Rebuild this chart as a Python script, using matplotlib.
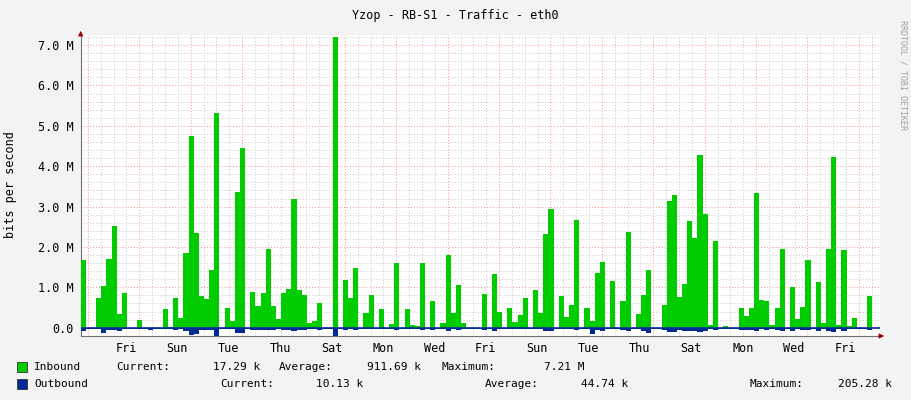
import matplotlib
matplotlib.use("Agg")
import matplotlib.pyplot as plt
import numpy as np

slot_days = 0.2  # sample period in days
inbound_M = [1.67,0,0,0.74,1.03,1.70,2.51,0.34,0.87,0,0,0.19,0,0,0,0,0.46,0.02,0.74,0.25,
             1.85,4.74,2.35,0.79,0.72,1.43,5.33,0,0.49,0.16,3.35,4.46,0,0.88,0.54,0.86,1.94,0.54,0.22,0.86,
             0.96,3.2,0.93,0.81,0.11,0.16,0.61,0,0,7.21,0,1.18,0.74,1.47,0,0.36,0.81,0,0.46,0,
             0.09,1.6,0,0.46,0.07,0.04,1.6,0,0.66,0,0.12,1.8,0.36,1.05,0.12,0,0,0,0.83,0,
             1.33,0.39,0,0.49,0.14,0.31,0.74,0,0.93,0.36,2.31,2.93,0,0.79,0.27,0.56,2.66,0,0.49,0.16,
             1.35,1.62,0,1.15,0,0.66,2.37,0,0.34,0.81,1.43,0,0,0.56,3.13,3.28,0.76,1.08,2.64,2.22,
             4.29,2.81,0.07,2.14,0,0.04,0,0,0.49,0.29,0.49,3.33,0.68,0.66,0.07,0.49,1.94,0,1.0,0.21,
             0.51,1.67,0,1.13,0.12,1.94,4.24,0.07,1.92,0.04,0.24,0,0,0.78]
outbound_k = [90,20,20,40,120,60,60,90,40,20,20,20,20,50,20,20,40,20,60,40,
              80,190,150,60,50,60,200,40,40,30,120,130,40,60,50,50,50,50,30,50,
              50,80,60,50,20,30,50,20,20,205,20,50,40,60,20,30,40,20,40,20,
              20,60,20,40,20,20,60,20,50,20,30,80,40,60,30,20,20,20,50,20,
              70,40,20,30,20,30,40,20,40,30,70,70,20,40,30,40,60,20,30,150,
              60,80,20,40,20,50,90,20,40,70,120,20,20,50,110,100,60,90,80,70,
              110,90,20,60,20,20,20,20,60,50,60,90,40,60,20,60,80,20,90,30,
              50,60,20,70,40,80,110,30,80,20,30,20,20,60]

day_labels = ["Fri","Sun","Tue","Thu","Sat","Mon","Wed","Fri","Sun","Tue","Thu","Sat","Mon","Wed","Fri"]
first_major = 0.28
first_label = 1.76
ytick_vals = [0,1,2,3,4,5,6,7]
ytick_labels = ["0.0","1.0 M","2.0 M","3.0 M","4.0 M","5.0 M","6.0 M","7.0 M"]

W, H = 911, 400
fig = plt.figure(figsize=(W/100, H/100), dpi=100, facecolor="#F3F3F3")
ax = fig.add_axes([80.7/W, 1-336/H, (880-80.7)/W, (336-35)/H])
ax.set_facecolor("white")
mono = "DejaVu Sans Mono"

n = len(inbound_M)
t = np.arange(n+1)*slot_days
vin = np.append(inbound_M, inbound_M[-1])
vout = -np.append(outbound_k, outbound_k[-1])/1000.0
ax.fill_between(t, 0, vin, step="post", color="#00CC00", lw=0, zorder=3)
ax.fill_between(t, 0, vout, step="post", color="#002A97", lw=0, zorder=3)
ax.axhline(0, color="#002A97", lw=1.2, zorder=4)

xmax = (880-80.7)/25.7
ax.set_xlim(0, xmax)
ax.set_ylim(-0.205, 7.25)

# grid
for y in np.arange(0, 7.3, 0.2):
    major = abs(y-round(y)) < 1e-6
    ax.axhline(y, color="#FF9090" if major else "#C8C8C8", lw=0.7, ls=(0,(1,2)), zorder=1)
x = first_major-2
while x < xmax:
    for k in range(4):
        xx = x + 0.5*k
        if 0 < xx < xmax:
            ax.axvline(xx, color="#FF9090" if k == 0 else "#C8C8C8", lw=0.7, ls=(0,(1,2)), zorder=1)
    x += 2

for s in ["top","right"]:
    ax.spines[s].set_visible(False)
ax.spines["left"].set_color("#707070")
ax.spines["bottom"].set_color("#707070")
ax.annotate("", xy=(887/W, 1-336/H), xytext=(878/W, 1-336/H), xycoords="figure fraction",
            arrowprops=dict(arrowstyle="-|>", color="#A00000", lw=0.8, mutation_scale=7))
ax.annotate("", xy=(80.7/W, 1-28/H), xytext=(80.7/W, 1-38/H), xycoords="figure fraction",
            arrowprops=dict(arrowstyle="-|>", color="#A00000", lw=0.8, mutation_scale=7))

ax.set_yticks(ytick_vals)
ax.set_yticklabels(ytick_labels, fontfamily=mono, fontsize=8.5)
ax.set_xticks([first_label + 2*i for i in range(len(day_labels))])
ax.set_xticklabels(day_labels, fontfamily=mono, fontsize=8.5)
ax.tick_params(length=0, pad=5, colors="#000000")
ax.tick_params(axis="x", pad=4)

fig.text(0.5, 1-15/H, "Yzop - RB-S1 - Traffic - eth0", ha="center", va="center", fontfamily=mono, fontsize=8.5)
fig.text(11/W, 1-185/H, "bits per second", rotation=90, ha="center", va="center", fontfamily=mono, fontsize=8.5)
fig.text(903/W, 1-75/H, "RRDTOOL / TOBI OETIKER", rotation=270, ha="center", va="center",
         fontfamily=mono, fontsize=6, color="#A0A0A0")

# legend
fig.patches.append(plt.Rectangle((17/W, 1-372/H), 10/W, 10/H, transform=fig.transFigure,
                                 facecolor="#00CC00", edgecolor="#333333", lw=0.6))
fig.patches.append(plt.Rectangle((17/W, 1-389/H), 10/W, 10/H, transform=fig.transFigure,
                                 facecolor="#002A97", edgecolor="#333333", lw=0.6))
row1 = [(34,"Inbound","left"),(116,"Current:","left"),(260,"17.29 k","right"),(279,"Average:","left"),
        (421,"911.69 k","right"),(441,"Maximum:","left"),(584,"7.21 M","right")]
row2 = [(34,"Outbound","left"),(220,"Current:","left"),(363,"10.13 k","right"),(485,"Average:","left"),
        (628,"44.74 k","right"),(750,"Maximum:","left"),(892,"205.28 k","right")]
for xp, s, ha in row1:
    fig.text(xp/W, 1-367/H, s, ha=ha, va="center", fontfamily=mono, fontsize=8)
for xp, s, ha in row2:
    fig.text(xp/W, 1-384/H, s, ha=ha, va="center", fontfamily=mono, fontsize=8)

fig.savefig("out.png", dpi=100, facecolor=fig.get_facecolor())
